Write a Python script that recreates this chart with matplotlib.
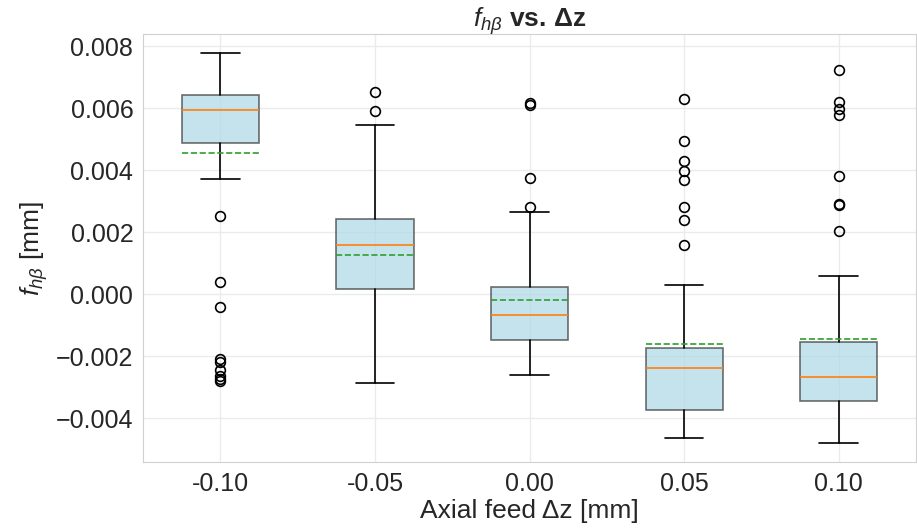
import matplotlib
matplotlib.use('Agg')
import matplotlib.pyplot as plt
import seaborn as sns

# Box statistics per axial feed step
feeds = ['-0.10', '-0.05', '0.00', '0.05', '0.10']
whislo = [0.00372, -0.00285, -0.00259, -0.00463, -0.00479]
q1 = [0.00488, 0.00017, -0.00149, -0.00374, -0.00343]
med = [0.00593, 0.00159, -0.00067, -0.00237, -0.00266]
q3 = [0.00644, 0.00242, 0.00024, -0.00175, -0.00153]
whishi = [0.00777, 0.00546, 0.00266, 0.00029, 0.00058]
means = [0.00457, 0.00128, -0.00018, -0.00162, -0.00143]
fliers = [
    [0.00252, 0.00038, -0.00041, -0.00208, -0.00218, -0.00243, -0.00265, -0.00275, -0.00280],
    [0.00653, 0.00590],
    [0.00618, 0.00612, 0.00375, 0.00283],
    [0.00629, 0.00494, 0.00431, 0.00396, 0.00370, 0.00283, 0.00240, 0.00158],
    [0.00725, 0.00620, 0.00599, 0.00577, 0.00383, 0.00290, 0.00288, 0.00204],
]

sns.set_style('whitegrid')
plt.rcParams['font.family'] = ['Liberation Sans', 'DejaVu Sans']
plt.rcParams['mathtext.fontset'] = 'custom'
plt.rcParams['mathtext.rm'] = 'Liberation Sans'
plt.rcParams['mathtext.it'] = 'Liberation Sans:italic'
plt.rcParams['mathtext.bf'] = 'Liberation Sans:bold'

stats = []
for i, lab in enumerate(feeds):
    stats.append({'label': lab, 'whislo': whislo[i], 'q1': q1[i], 'med': med[i],
                  'q3': q3[i], 'whishi': whishi[i], 'mean': means[i],
                  'fliers': fliers[i]})

fig, ax = plt.subplots(figsize=(9.17, 5.3), dpi=100)
fig.subplots_adjust(left=0.156, right=0.999, top=0.936, bottom=0.128)

ax.bxp(stats, showmeans=True, meanline=True, patch_artist=True,
       boxprops=dict(facecolor='lightblue', edgecolor='#333333', alpha=0.7, linewidth=1.2),
       medianprops=dict(color='#ff7f0e', linewidth=1.2),
       meanprops=dict(color='#2ca02c', linestyle='--', linewidth=1.2),
       whiskerprops=dict(color='black', linewidth=1.2),
       capprops=dict(color='black', linewidth=1.2),
       flierprops=dict(marker='o', markerfacecolor='none', markeredgecolor='black',
                       markersize=7, markeredgewidth=1.2))

ax.grid(True, color='#ebebeb', linewidth=1)
for s in ax.spines.values():
    s.set_color('#d0d0d0')

ax.set_title(r'$f_{h\beta}$ vs. $\mathbf{\Delta}$z', fontsize=19, fontweight='bold', pad=5)
ax.set_xlabel('Axial feed Δz [mm]', fontsize=19, labelpad=2)
ax.set_ylabel(r'$f_{h\beta}$ [mm]', fontsize=19)
ax.tick_params(axis='both', labelsize=18)

fig.savefig('out.png', dpi=100)
